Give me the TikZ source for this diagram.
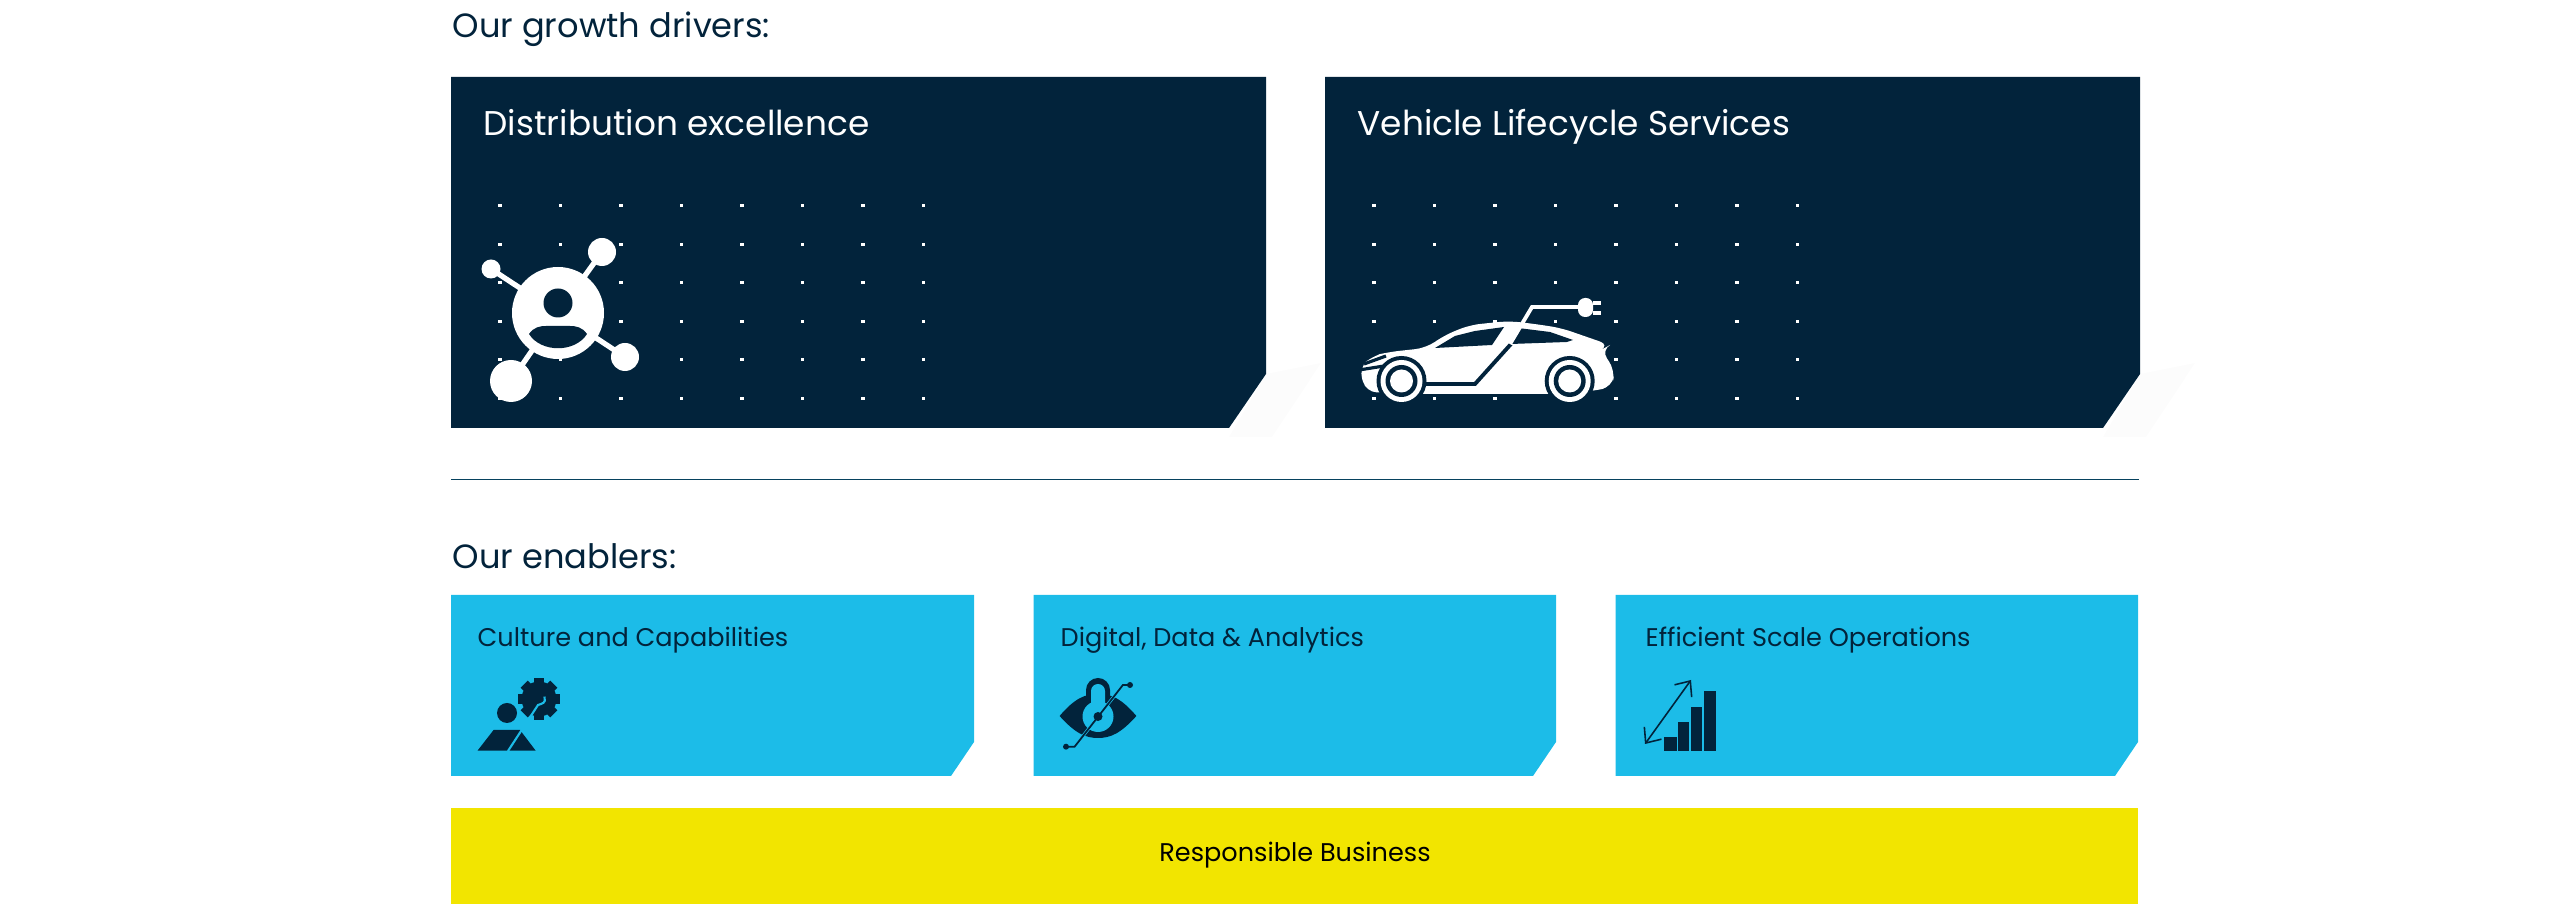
\documentclass[tikz,border=0pt]{standalone}
\usepackage{fontspec}
\setmainfont{Poppins}
\usetikzlibrary{arrows.meta}
\definecolor{navy}{HTML}{02233B}
\definecolor{skyblue}{HTML}{1CBCE8}
\definecolor{signyellow}{HTML}{F2E500}
\definecolor{faintgrey}{HTML}{FCFCFC}
\tikzset{
    heading/.style={anchor=base west, inner sep=0pt, text=navy, font=\fontsize{9.57}{12}\selectfont},
    bigtitle/.style={anchor=base west, inner sep=0pt, text=white, font=\fontsize{9.76}{12}\selectfont},
    smalltitle/.style={anchor=base west, inner sep=0pt, text=navy, font=\fontsize{7.27}{10}\selectfont},
}
\begin{document}
\begin{tikzpicture}[x=0.01cm,y=-0.01cm]
        \useasboundingbox (0,0) rectangle (2560,904);
        % Section headings
        \node[heading] (drivers) at (452,38) {Our growth drivers:};
        \node[heading] (enablers) at (452,569) {Our enablers:};
        % Faint shadows behind the cut corners
        \foreach \x in {0,874}
            \fill[faintgrey] (1229+\x,437) -- (1266+\x,374) -- (1321+\x,363) -- (1272+\x,437) -- cycle;
        % Draw dark panels
        \fill[navy] (451,77) -- (1266,77) -- (1266,374) -- (1229,428) -- (451,428) -- cycle;
        \fill[navy] (1325,77) -- (2140,77) -- (2140,374) -- (2103,428) -- (1325,428) -- cycle;
        \node[bigtitle] (distribution) at (483,136) {Distribution excellence};
        \node[bigtitle] (lifecycle) at (1357,136) {Vehicle Lifecycle Services};
        % Dot grids in both panels
        \foreach \x in {0,...,7}
            \foreach \y in {0,...,5} {
                \fill[white] (500+\x*60.5-1.8,205.7+\y*38.5-1.5) rectangle ++(3.6,3);
                \fill[white] (1374+\x*60.5-1.8,205.7+\y*38.5-1.5) rectangle ++(3.6,3);
            }
        % Person network icon
        \draw[white, line width=1.5pt] (558,313) -- (602,252);
        \draw[white, line width=1.5pt] (558,313) -- (491,269);
        \draw[white, line width=1.5pt] (558,313) -- (625,357);
        \draw[white, line width=1.5pt] (558,313) -- (511,381);
        \fill[white] (558,313) circle (46);
        \fill[white] (602,252) circle (14);
        \fill[white] (491,269) circle (9.5);
        \fill[white] (625,357) circle (14);
        \fill[white] (511,381) circle (21);
        \fill[navy] (558,303) circle (14.5);
        \fill[navy] (529,334) .. controls (534,327) and (540,326) .. (546,326) -- (570,326)
            .. controls (576,326) and (582,327) .. (587,334) .. controls (575,353) and (541,353) .. (529,334) -- cycle;
        % Car icon
        \fill[white, rounded corners=3] (1359,368) -- (1372,356) -- (1389,352) -- (1426,348) -- (1445,335)
            -- (1470,325) -- (1509,321) -- (1535,324) -- (1561,328) -- (1610,345) -- (1601,350)
            -- (1615,370) -- (1612,387) -- (1593,391) -- (1547,394) -- (1423,394) -- (1366,392) -- cycle;
        \fill[navy] (1435,348) -- (1455,336) -- (1475,331) -- (1504,327) -- (1492,345) -- cycle;
        \fill[navy] (1518,328) -- (1550,332) -- (1573,340) -- (1567,342) -- (1511,344) -- cycle;
        \draw[navy, line width=0.9pt] (1364,364) -- (1386,356);
        \draw[navy, line width=0.9pt] (1359,370) -- (1384,366);
        \foreach \x in {1401.5,1569.7} {
            \fill[navy] (\x,381) circle (25);
            \fill[white] (\x,381) circle (21);
            \fill[navy] (\x,381) circle (16);
            \fill[white] (\x,381) circle (11.5);
        }
        \draw[navy, line width=1.1pt] (1511,344) -- (1475,384) -- (1423,384);
        % Charging cable and plug
        \draw[white, line width=1.1pt] (1580,307) -- (1532,307) -- (1510,344);
        \fill[white, rounded corners=2] (1578,298) rectangle (1593,317);
        \fill[white] (1593,301) rectangle (1601,305);
        \fill[white] (1593,311) rectangle (1601,315);
        % Divider
        \draw[navy!80!skyblue, line width=0.35pt] (451,479.5) -- (2139,479.5);
        % Draw enabler panels
        \foreach \x/\w in {451/974,1033.5/1556,1615.5/2138}
            \fill[skyblue] (\x,595) -- (\w,595) -- (\w,742) -- (\w-23,776) -- (\x,776) -- cycle;
        \node[smalltitle] (culture) at (477,647) {Culture and Capabilities};
        \node[smalltitle] (digital) at (1060,647) {Digital, Data \& Analytics};
        \node[smalltitle] (scale) at (1645,647) {Efficient Scale Operations};
        % Person and gear icon
        \fill[navy] (539,699) circle (17.5);
        \foreach \a in {0,45,...,315}
            \fill[navy, rotate around={\a:(539,699)}] (534,678) rectangle (544,690);
        \fill[navy] (507,713) circle (10);
        \fill[navy] (477.5,750.7) -- (493.6,730) -- (520,730) -- (535.7,750.7) -- cycle;
        \draw[skyblue, line width=0.6pt] (508,751) -- (538,705) -- (541,704) arc (80:-30:5);
        % Eye and padlock icon
        \fill[navy] (1059.6,716) .. controls (1075,698) and (1085,694) .. (1098,694)
            .. controls (1111,694) and (1121,698) .. (1136.4,716)
            .. controls (1121,733) and (1111,738) .. (1098,738)
            .. controls (1085,738) and (1075,733) .. (1059.6,716) -- cycle;
        \fill[navy] (1086,705) -- (1086,690) arc (180:360:12) -- (1110,705) -- cycle;
        \fill[skyblue] (1091,704) -- (1091,691) arc (180:360:7) -- (1105,704) -- cycle;
        \fill[skyblue] (1098,716.5) circle (15.5);
        \draw[skyblue, line width=0.9pt] (1074.6,746.7) -- (1122.9,685);
        \draw[navy, line width=0.5pt] (1065.7,746.7) -- (1074.6,746.7) -- (1122.9,685) -- (1130,685);
        \fill[navy] (1098,716.5) circle (4.5);
        \fill[navy] (1066,746.7) circle (3);
        \fill[navy] (1130,685) circle (3);
        % Bar chart icon
        \foreach \l/\r/\t in {1664.3/1676.8/737.3,1677.5/1689.3/721.7,1690.7/1702/706.7,1703.6/1716.4/691}
            \fill[navy] (\l,\t) rectangle (\r,750.7);
        \draw[{Straight Barb[length=3.5pt,width=6pt]}-{Straight Barb[length=3.5pt,width=6pt]}, navy, line width=0.45pt] (1645,744) -- (1691,680);
        % Bottom band
        \fill[signyellow] (451,808) rectangle (2138,904);
        \node[smalltitle, anchor=base, text=black] (responsible) at (1295,862) {Responsible Business};
\end{tikzpicture}
\end{document}
